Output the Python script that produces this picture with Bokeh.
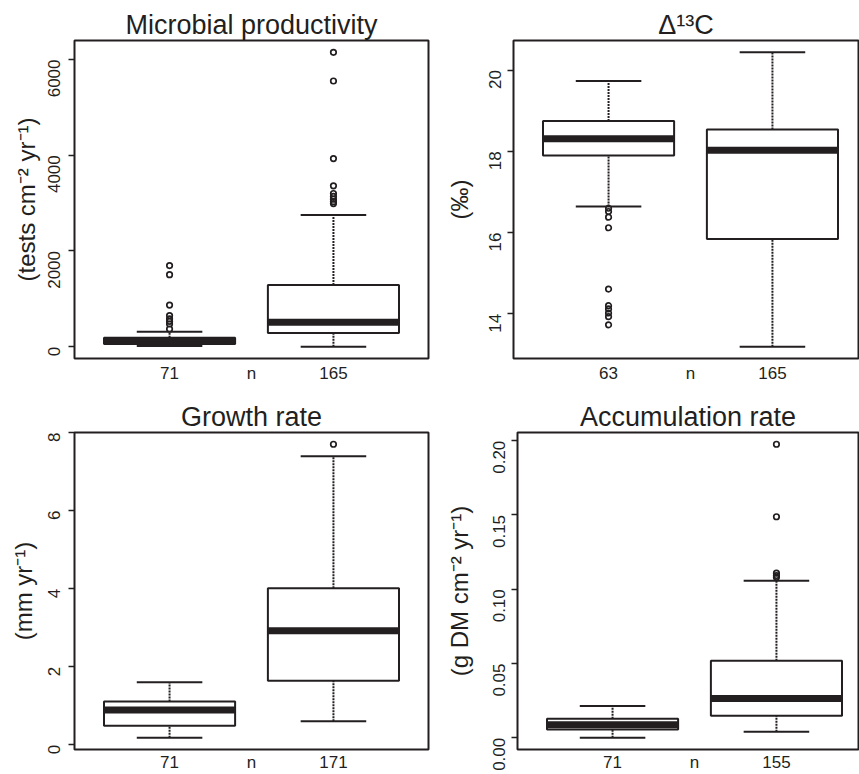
import math
from bokeh.plotting import figure
from bokeh.models import Range1d, FixedTicker, ColumnDataSource, NumeralTickFormatter, BasicTickFormatter
from bokeh.transform import dodge
from bokeh.layouts import column, row
from bokeh.embed import file_html
from bokeh.resources import INLINE

INK = "#231f20"
FONT = "Liberation Sans"

# ---------------- data ----------------
groups = [1, 2]

# Microbial productivity (tests cm-2 yr-1)
mp_n = ["71", "165"]
mp_low = [15, 0]
mp_q1 = [55, 285]
mp_median = [120, 510]
mp_q3 = [190, 1290]
mp_high = [315, 2750]
mp_out_1 = [1695, 1505, 870, 650, 580, 530, 475, 370]
mp_out_2 = [6150, 5550, 3930, 3360, 3200, 3140, 3080, 3030, 2990]
mp_ticks = [0, 2000, 4000, 6000]

# Delta 13C (permil)
d13_n = ["63", "165"]
d13_low = [16.64, 13.19]
d13_q1 = [17.90, 15.84]
d13_median = [18.31, 18.03]
d13_q3 = [18.75, 18.54]
d13_high = [19.73, 20.44]
d13_out_1 = [16.60, 16.52, 16.38, 16.12, 14.61, 14.20, 14.12, 14.02, 13.93, 13.73]
d13_out_2 = []
d13_ticks = [14, 16, 18, 20]

# Growth rate (mm yr-1)
gr_n = ["71", "171"]
gr_low = [0.18, 0.60]
gr_q1 = [0.49, 1.64]
gr_median = [0.89, 2.92]
gr_q3 = [1.11, 4.01]
gr_high = [1.60, 7.39]
gr_out_1 = []
gr_out_2 = [7.70]
gr_ticks = [0, 2, 4, 6, 8]

# Accumulation rate (g DM cm-2 yr-1)
ar_n = ["71", "155"]
ar_low = [0.000, 0.004]
ar_q1 = [0.0055, 0.0148]
ar_median = [0.0088, 0.0265]
ar_q3 = [0.0128, 0.0519]
ar_high = [0.0213, 0.1057]
ar_out_1 = []
ar_out_2 = [0.1976, 0.1488, 0.1108, 0.1092, 0.1080]
ar_ticks = [0.0, 0.05, 0.10, 0.15, 0.20]


def make_panel(title, ylabel, low, q1, med, q3, high, out1, out2, ticks, nlabels,
               width, height, bl, br, bt, bb, frame_w, label_standoff, tick_standoff,
               xlab_standoff, formatter=None):
    lo_all = min(low + out1 + out2)
    hi_all = max(high + out1 + out2)
    pad = 0.04 * (hi_all - lo_all)
    x_start = 0.5 - 0.04 * 2
    x_end = x_start + 2.16 * frame_w / 354.0
    p = figure(width=width, height=height,
               x_range=Range1d(x_start, x_end),
               y_range=Range1d(lo_all - pad, hi_all + pad),
               output_backend="svg", toolbar_location=None,
               min_border_left=bl, min_border_right=br,
               min_border_top=bt, min_border_bottom=bb)
    p.grid.visible = False
    p.background_fill_color = "white"
    p.border_fill_color = "white"
    p.outline_line_color = INK
    p.outline_line_width = 2
    p.outline_line_alpha = 1

    # title
    p.title.text = title
    p.title.align = "center"
    p.title.text_font = FONT
    p.title.text_font_size = "27px"
    p.title.text_font_style = "normal"
    p.title.text_color = INK
    p.title.standoff = 1

    src = ColumnDataSource(dict(x=groups, low=low, q1=q1, med=med, q3=q3, high=high))
    # whiskers
    p.segment(x0="x", y0="q3", x1="x", y1="high", source=src,
              line_color=INK, line_width=2, line_dash="2 1")
    p.segment(x0="x", y0="low", x1="x", y1="q1", source=src,
              line_color=INK, line_width=2, line_dash="2 1")
    # boxes
    p.vbar(x="x", width=0.8, bottom="q1", top="q3", source=src,
           fill_color="white", line_color=INK, line_width=2)
    # medians
    p.segment(x0=dodge("x", -0.4), y0="med", x1=dodge("x", 0.4), y1="med", source=src,
              line_color=INK, line_width=7)
    # staples
    p.segment(x0=dodge("x", -0.2), y0="high", x1=dodge("x", 0.2), y1="high", source=src,
              line_color=INK, line_width=2)
    p.segment(x0=dodge("x", -0.2), y0="low", x1=dodge("x", 0.2), y1="low", source=src,
              line_color=INK, line_width=2)
    # outliers
    ox = [groups[0]] * len(out1) + [groups[1]] * len(out2)
    oy = list(out1) + list(out2)
    if oy:
        p.scatter(x=ox, y=oy, marker="circle", size=5.5, fill_color=None,
                  line_color=INK, line_width=1.7)

    # y axis
    ay = p.yaxis[0]
    ay.ticker = FixedTicker(ticks=ticks)
    ay.formatter = formatter if formatter is not None else BasicTickFormatter()
    ay.axis_line_color = None
    ay.major_tick_out = 6
    ay.major_tick_in = 0
    ay.major_tick_line_color = INK
    ay.major_tick_line_width = 1.6
    ay.minor_tick_line_color = None
    ay.major_label_orientation = math.pi / 2
    ay.major_label_standoff = tick_standoff
    ay.major_label_text_font = FONT
    ay.major_label_text_font_size = "17px"
    ay.major_label_text_color = INK
    ay.axis_label = ylabel
    ay.axis_label_text_font = FONT
    ay.axis_label_text_font_size = "24px"
    ay.axis_label_text_font_style = "normal"
    ay.axis_label_text_color = INK
    ay.axis_label_standoff = label_standoff

    # x axis: sample sizes
    mid = (groups[0] + groups[1]) / 2
    ax = p.xaxis[0]
    ax.ticker = FixedTicker(ticks=[groups[0], mid, groups[1]])
    ax.major_label_overrides = {groups[0]: nlabels[0], mid: "n", groups[1]: nlabels[1]}
    ax.axis_line_color = None
    ax.major_tick_out = 0
    ax.major_tick_in = 0
    ax.major_tick_line_color = None
    ax.minor_tick_line_color = None
    ax.major_label_standoff = xlab_standoff
    ax.major_label_text_font = FONT
    ax.major_label_text_font_size = "17px"
    ax.major_label_text_color = INK
    return p


p1 = make_panel("Microbial productivity", "(tests cm\u207b\u00b2 yr\u207b\u00b9)",
                mp_low, mp_q1, mp_median, mp_q3, mp_high, mp_out_1, mp_out_2, mp_ticks, mp_n,
                width=430, height=392, bl=74, br=2, bt=40, bb=34, frame_w=354,
                label_standoff=0, tick_standoff=14, xlab_standoff=5)
p2 = make_panel("\u0394\u00b9\u00b3C", "(\u2030)",
                d13_low, d13_q1, d13_median, d13_q3, d13_high, d13_out_1, d13_out_2, d13_ticks, d13_n,
                width=429, height=392, bl=83, br=1, bt=40, bb=34, frame_w=345,
                label_standoff=8, tick_standoff=12, xlab_standoff=5)
p3 = make_panel("Growth rate", "(mm yr\u207b\u00b9)",
                gr_low, gr_q1, gr_median, gr_q3, gr_high, gr_out_1, gr_out_2, gr_ticks, gr_n,
                width=430, height=382, bl=74, br=2, bt=40, bb=24, frame_w=354,
                label_standoff=3, tick_standoff=14, xlab_standoff=3)
p4 = make_panel("Accumulation rate", "(g DM cm\u207b\u00b2 yr\u207b\u00b9)",
                ar_low, ar_q1, ar_median, ar_q3, ar_high, ar_out_1, ar_out_2, ar_ticks, ar_n,
                width=429, height=382, bl=87, br=1, bt=40, bb=24, frame_w=341,
                label_standoff=12, tick_standoff=12, xlab_standoff=3,
                formatter=NumeralTickFormatter(format="0.00"))

layout = column(row(p1, p2), row(p3, p4))
open("out.html", "w").write(file_html(layout, INLINE))
